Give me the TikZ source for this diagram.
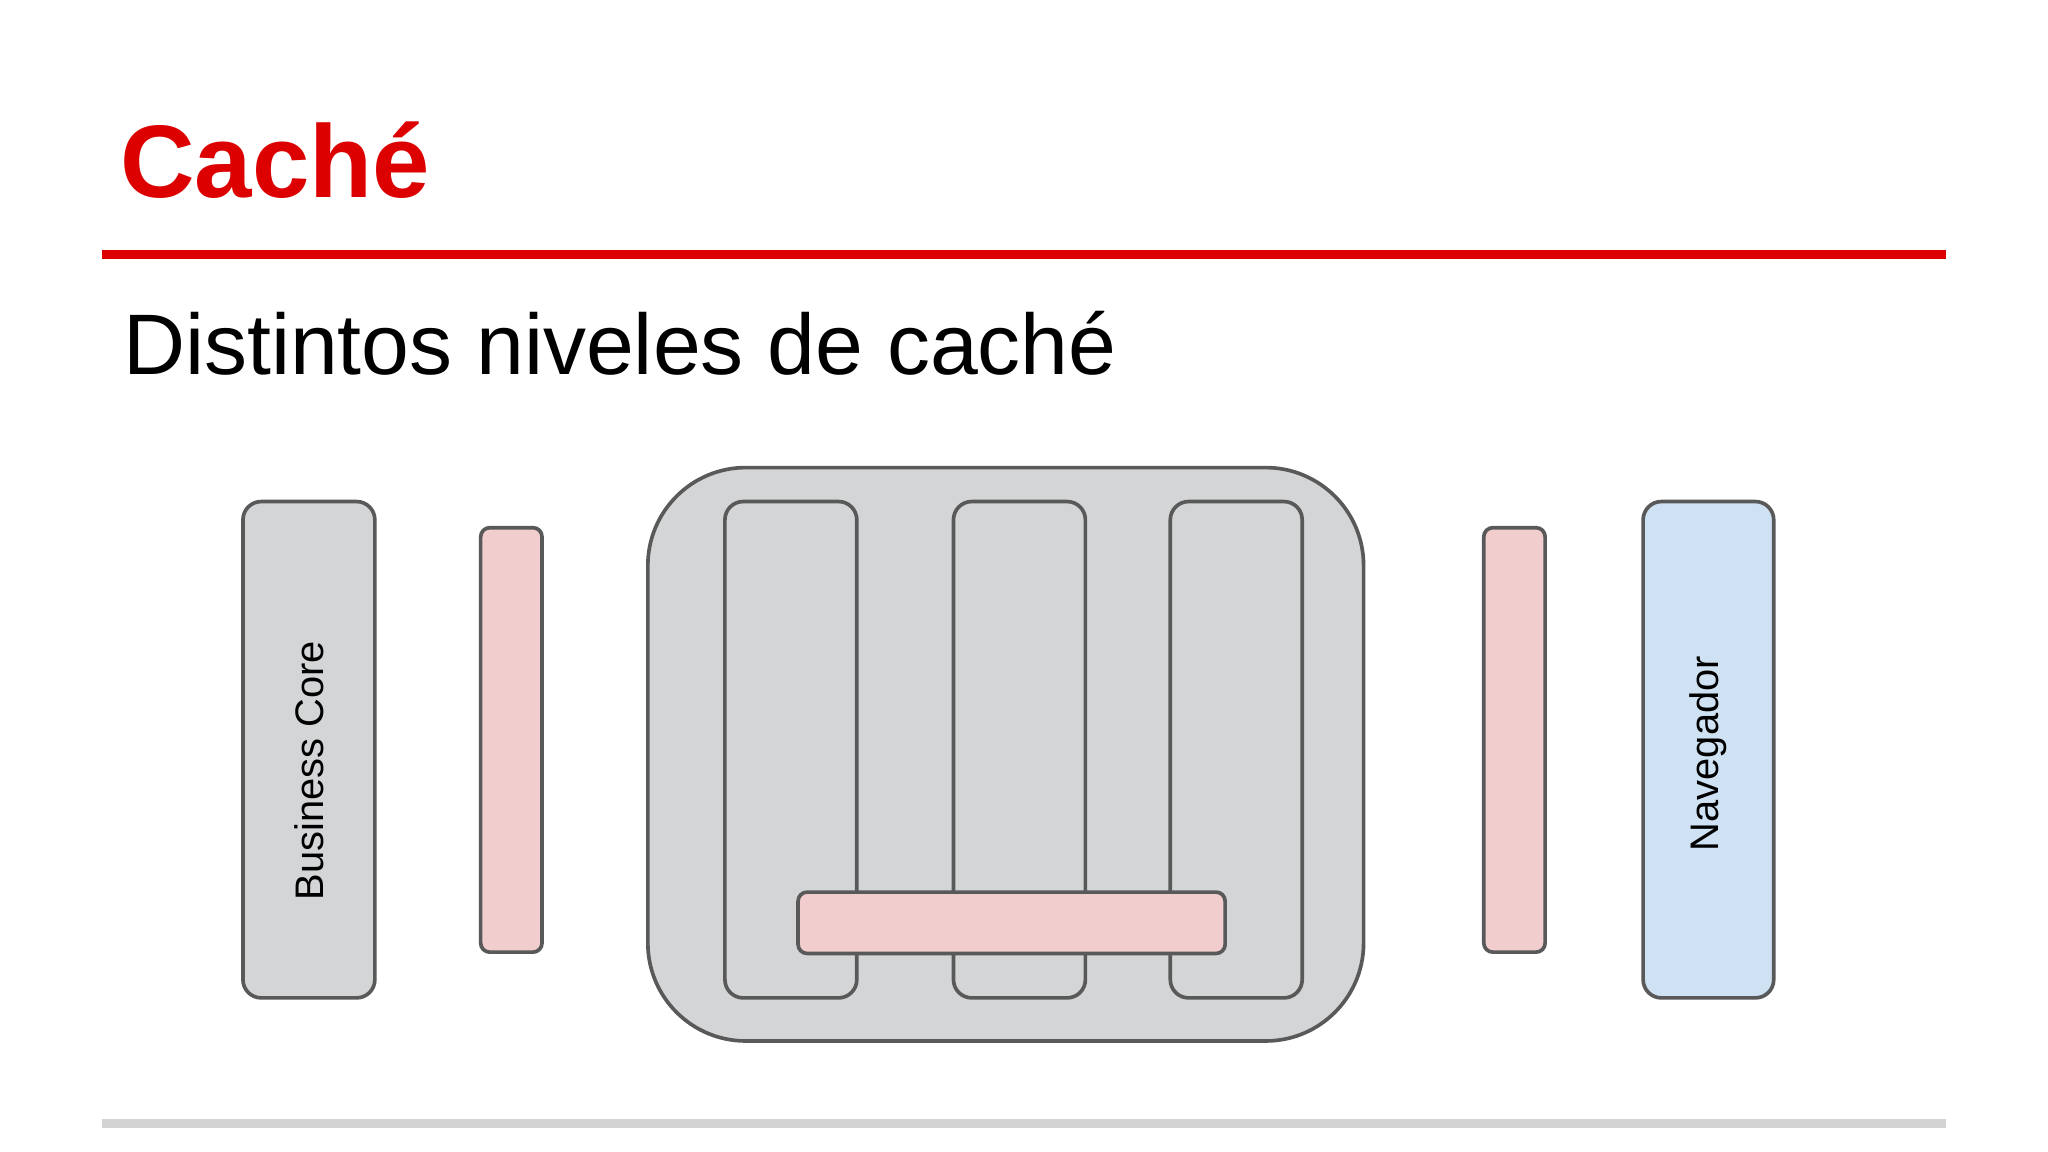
\documentclass[tikz,border=0pt]{standalone}
\usepackage{fontspec}
\setmainfont{Liberation Sans}
\usetikzlibrary{positioning}
\definecolor{rojo}{RGB}{221,0,0}
\definecolor{borde}{RGB}{89,89,89}
\definecolor{gris}{RGB}{211,213,214}
\definecolor{rosa}{RGB}{242,205,206}
\definecolor{azul}{RGB}{207,226,243}
\definecolor{linea}{RGB}{211,211,211}

\begin{document}
\begin{tikzpicture}[
x=1pt, y=-1pt,
    B/.style = {rectangle, draw=borde, line width=2.8pt,% base of all boxes
                inner sep=0pt, outer sep=0pt},
    G/.style = {B, fill=gris, rounded corners=14pt},% grey layers
    P/.style = {B, fill=rosa, rounded corners=7pt},% cache bars
    A/.style = {B, fill=azul, rounded corners=14pt},% browser
    T/.style = {font=\fontsize{30.5}{36}\selectfont, inner sep=0pt},
                        ]
\useasboundingbox[fill=white] (0,0) rectangle (1568,882);
% heading
\node[anchor=base west, inner sep=0pt, text=rojo,
      font=\fontsize{79}{96}\selectfont\bfseries] (titulo) at (92,151) {Caché};
\fill[rojo] (78,191.5) rectangle (1490,198.5);
\node[anchor=base west, inner sep=0pt,
      font=\fontsize{65.8}{78}\selectfont] (sub) at (94,287) {Distintos niveles de caché};
% layers
\node[G, minimum width=101pt, minimum height=380pt] (core) at (236.5,574) {};
\node[T, rotate=90] (coretxt) at ([yshift=-16pt]core.center) {Business Core};
\node[P, minimum width=47pt, minimum height=325pt] (c1) at (391.5,566.5) {};
\node[G, rounded corners=75pt, minimum width=548pt, minimum height=439pt] (srv) at (770,577.5) {};
\foreach \i/\x in {1/605.5,2/780.5,3/946.5}% <-- servers inside
    \node[G, minimum width=101pt, minimum height=380pt] (s\i) at (\x,574) {};
\node[P, minimum width=327pt, minimum height=47pt] (c2) at (774.5,706.5) {};
\node[P, minimum width=47pt, minimum height=325pt] (c3) at (1159.5,566.5) {};
\node[A, minimum width=100pt, minimum height=380pt] (nav) at (1308,574) {};
\node[T, rotate=90] (navtxt) at ([yshift=-3pt]nav.center) {Navegador};
% footer
\fill[linea] (78,856.5) rectangle (1490,863.5);
\end{tikzpicture}
\end{document}
